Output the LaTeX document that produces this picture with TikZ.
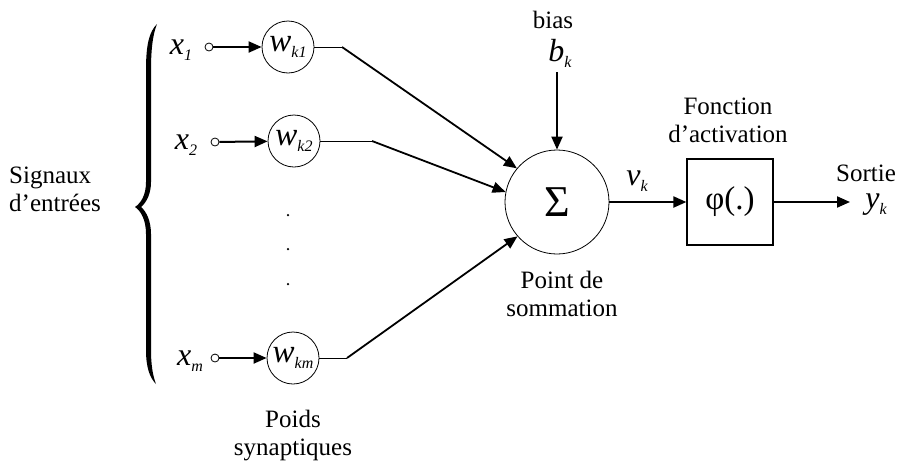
\documentclass[tikz,border=0pt]{standalone}
\usepackage{fontspec}
\setmainfont{Liberation Serif}
\usetikzlibrary{arrows.meta}
% italic symbol with a lowered italic index
\newcommand{\symsub}[3][32]{{\fontsize{#1}{#1}\selectfont\itshape #2}\raisebox{-6pt}{\fontsize{16}{16}\selectfont\itshape #3}}
\begin{document}
\begin{tikzpicture}[x=1pt,y=-1pt,
  lbl/.style={font=\fontsize{25}{28}\selectfont, align=center, inner sep=0pt},
  weight/.style={circle, draw, line width=0.8pt, minimum size=52pt, inner sep=0pt},
  inport/.style={circle, draw, line width=0.8pt, minimum size=8pt, inner sep=0pt},
  sym/.style={inner sep=0pt},
  arr/.style={line width=2pt, -{Triangle[length=13pt,width=11pt]}},
  thinline/.style={line width=1pt},
  diag/.style={line width=1.8pt, -{Triangle[length=13pt,width=11pt]}},
  dot/.style={circle, fill, inner sep=0pt, minimum size=2.5pt}]
\useasboundingbox (0,0) rectangle (901,461);

% input brace
\fill (157,24) .. controls (149,32) and (146,45) .. (146,70) -- (146,182)
  .. controls (146,195) and (141,203) .. (135,207)
  .. controls (141,211) and (146,220) .. (146,234) -- (146,350)
  .. controls (146,368) and (150,378) .. (156,384)
  .. controls (153,376) and (151,366) .. (151,350) -- (151,234)
  .. controls (151,222) and (147,212) .. (141,207)
  .. controls (147,202) and (151,193) .. (151,182) -- (151,70)
  .. controls (151,48) and (153,34) .. (157,24) -- cycle;

\node[lbl, align=left, anchor=west] (signaux) at (9,189) {Signaux\\d’entrées};

% inputs
\node[sym] (x1) at (181,50) {\symsub{x}{1}};
\node[sym] (x2) at (186,145) {\symsub{x}{2}};
\node[sym] (xm) at (190,361) {\symsub{x}{m}};

\node[inport] (i1) at (209,47) {};
\node[inport] (i2) at (215,142) {};
\node[inport] (im) at (215,358) {};

% synaptic weights
\node[weight] (w1) at (288,47) {\symsub[33]{w}{k1}};
\node[weight] (w2) at (294,141) {\symsub[33]{w}{k2}};
\node[weight] (wm) at (293,358) {\symsub[33]{w}{km}};

\node[dot] (d1) at (288,215) {};
\node[dot] (d2) at (288,249) {};
\node[dot] (d3) at (288,284) {};

\node[lbl] (poids) at (293,436) {Poids\\synaptiques};

% summing junction
\node[circle, draw, line width=0.8pt, minimum size=104pt, inner sep=0pt] (sum) at (557,202)
  {\fontsize{44}{44}\selectfont Σ};
\node[lbl] (point) at (562,294) {Point de\\sommation};

\node[lbl] (bias) at (553,20) {bias};
\node[sym] (bk) at (560,53) {\symsub{b}{k}};
\coordinate (btop) at (557,72);

% activation
\node[draw, line width=1.2pt, minimum width=86pt, minimum height=86pt, inner sep=0pt] (phi) at (730,202)
  {\fontsize{33}{33}\selectfont φ(.)};
\node[lbl] (fonc) at (728,120) {Fonction\\d’activation};
\node[sym] (vk) at (637,181) {\symsub{v}{k}};

\coordinate (out) at (850,202);
\node[lbl] (sortie) at (866,173) {Sortie};
\node[sym] (yk) at (876,205) {\symsub{y}{k}};

% corner points of the weight outputs
\coordinate (c1) at (342,47);
\coordinate (c2) at (372,141);
\coordinate (cm) at (347,358);

% connectors
\draw[arr] (i1) -- (w1);
\draw[arr] (i2) -- (w2);
\draw[arr] (im) -- (wm);

\draw[thinline] (w1) -- (c1);
\draw[thinline] (w2) -- (c2);
\draw[thinline] (wm) -- (cm);
\draw[diag] (c1) -- (sum.140);
\draw[diag] (c2) -- (sum.169);
\draw[diag] (cm) -- (sum.221);

\draw[arr] (btop) -- (sum);
\draw[arr] (sum) -- (phi);
\draw[arr] (phi) -- (out);
\end{tikzpicture}
\end{document}
